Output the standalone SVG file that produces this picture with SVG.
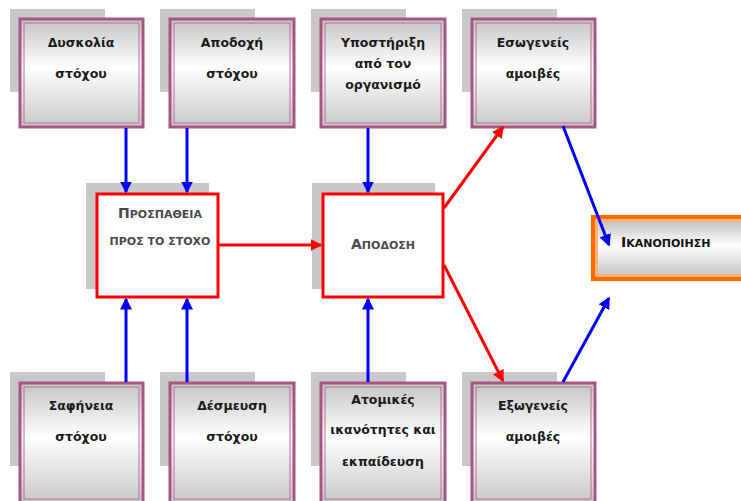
<svg xmlns="http://www.w3.org/2000/svg" width="741" height="501" viewBox="0 0 741 501">
<defs>
<linearGradient id="g" x1="0" y1="0" x2="0" y2="1">
<stop offset="0" stop-color="#c4c4c4"/>
<stop offset="0.45" stop-color="#ffffff"/>
<stop offset="1" stop-color="#c8c8c8"/>
</linearGradient>
<marker id="ab" markerWidth="4" markerHeight="4" refX="3.5" refY="2" orient="auto" markerUnits="strokeWidth"><path d="M0,0 L4,2 L0,4 z" fill="#0000ff"/></marker>
<marker id="ar" markerWidth="4" markerHeight="4" refX="3.5" refY="2" orient="auto" markerUnits="strokeWidth"><path d="M0,0 L4,2 L0,4 z" fill="#ff0000"/></marker>
</defs>
<style>
.sh{fill:#c8c8c8}
.bx{fill:url(#g);stroke:#a65684;stroke-width:3}
.bi{fill:none;stroke:#b5708f;stroke-width:1}
.t{font-family:"DejaVu Sans",Verdana,sans-serif;font-size:12.5px;font-weight:bold;text-anchor:middle;fill:#1a1a1a}
.c{font-family:"DejaVu Sans",Verdana,sans-serif;font-weight:bold;text-anchor:middle;fill:#4a4a4a}
.rb{fill:#fff;stroke:#ff0000;stroke-width:3}
.bl{stroke:#0000ff;stroke-width:3;fill:none;marker-end:url(#ab)}
.rl{stroke:#ff0000;stroke-width:3;fill:none;marker-end:url(#ar)}
</style>
<rect width="741" height="501" fill="#fff"/>
<g id="n1"><rect class="sh" x="10" y="9" width="95" height="83"/><rect class="bx" x="20" y="19" width="123" height="108"/><rect class="bi" x="24" y="23" width="115" height="100"/><text class="t" x="81" y="47">Δυσκολία</text><text class="t" x="81" y="78">στόχου</text></g>
<g id="n2"><rect class="sh" x="160" y="9" width="95" height="83"/><rect class="bx" x="170" y="19" width="124" height="108"/><rect class="bi" x="174" y="23" width="116" height="100"/><text class="t" x="232" y="47">Αποδοχή</text><text class="t" x="232" y="78">στόχου</text></g>
<g id="n3"><rect class="sh" x="311" y="9" width="95" height="83"/><rect class="bx" x="321" y="19" width="124" height="108"/><rect class="bi" x="325" y="23" width="116" height="100"/><text class="t" x="383" y="47">Υποστήριξη</text><text class="t" x="383" y="68">από τον</text><text class="t" x="383" y="89">οργανισμό</text></g>
<g id="n4"><rect class="sh" x="462" y="9" width="95" height="83"/><rect class="bx" x="472" y="19" width="123" height="108"/><rect class="bi" x="476" y="23" width="115" height="100"/><text class="t" x="533" y="47">Εσωγενείς</text><text class="t" x="533" y="78">αμοιβές</text></g>
<g id="n5"><rect class="sh" x="86" y="183" width="123" height="106"/><rect class="rb" x="97" y="194" width="121" height="103"/><text class="c" x="160" y="218" font-size="11"><tspan font-size="14">Π</tspan>ΡΟΣΠΑΘΕΙΑ</text><text class="c" x="160" y="245" font-size="11">ΠΡΟΣ ΤΟ ΣΤΟΧΟ</text></g>
<g id="n6"><rect class="sh" x="312" y="183" width="123" height="106"/><rect class="rb" x="323" y="194" width="120" height="103"/><text class="c" x="383" y="249" font-size="11"><tspan font-size="14">Α</tspan>ΠΟΔΟΣΗ</text></g>
<g id="n7"><rect fill="#ff6a00" x="591" y="215" width="160" height="66"/><rect fill="#ffb27a" x="595" y="219" width="160" height="58"/><rect fill="url(#g)" x="598" y="222" width="160" height="52"/><text font-family="DejaVu Sans,Verdana,sans-serif" font-weight="bold" font-size="11" fill="#111" x="621" y="247"><tspan font-size="14">Ι</tspan>ΚΑΝΟΠΟΙΗΣΗ</text></g>
<g id="n8"><rect class="sh" x="10" y="372" width="95" height="94"/><rect class="bx" x="20" y="383" width="123" height="120"/><rect class="bi" x="24" y="387" width="115" height="112"/><text class="t" x="81" y="410">Σαφήνεια</text><text class="t" x="81" y="441">στόχου</text></g>
<g id="n9"><rect class="sh" x="160" y="372" width="95" height="94"/><rect class="bx" x="170" y="383" width="124" height="120"/><rect class="bi" x="174" y="387" width="116" height="112"/><text class="t" x="232" y="410">Δέσμευση</text><text class="t" x="232" y="441">στόχου</text></g>
<g id="n10"><rect class="sh" x="311" y="372" width="95" height="94"/><rect class="bx" x="321" y="383" width="124" height="120"/><rect class="bi" x="325" y="387" width="116" height="112"/><text class="t" x="383" y="404">Ατομικές</text><text class="t" x="383" y="434" font-size="12">ικανότητες και</text><text class="t" x="383" y="466">εκπαίδευση</text></g>
<g id="n11"><rect class="sh" x="462" y="372" width="95" height="94"/><rect class="bx" x="472" y="383" width="123" height="120"/><rect class="bi" x="476" y="387" width="115" height="112"/><text class="t" x="533" y="410">Εξωγενείς</text><text class="t" x="533" y="441">αμοιβές</text></g>
<g id="connectors">
<line class="bl" x1="126" y1="128" x2="126" y2="192"/>
<line class="bl" x1="187" y1="128" x2="187" y2="192"/>
<line class="bl" x1="368" y1="128" x2="368" y2="192"/>
<line class="bl" x1="126" y1="382" x2="126" y2="299"/>
<line class="bl" x1="187" y1="382" x2="187" y2="299"/>
<line class="bl" x1="368" y1="382" x2="368" y2="299"/>
<line class="rl" x1="218" y1="245" x2="321" y2="245"/>
<line class="rl" x1="444" y1="208" x2="503" y2="127"/>
<line class="rl" x1="444" y1="265" x2="503" y2="381"/>
<line class="bl" x1="563" y1="126" x2="609" y2="245"/>
<line class="bl" x1="563" y1="382" x2="609" y2="298"/>
</g>
</svg>
